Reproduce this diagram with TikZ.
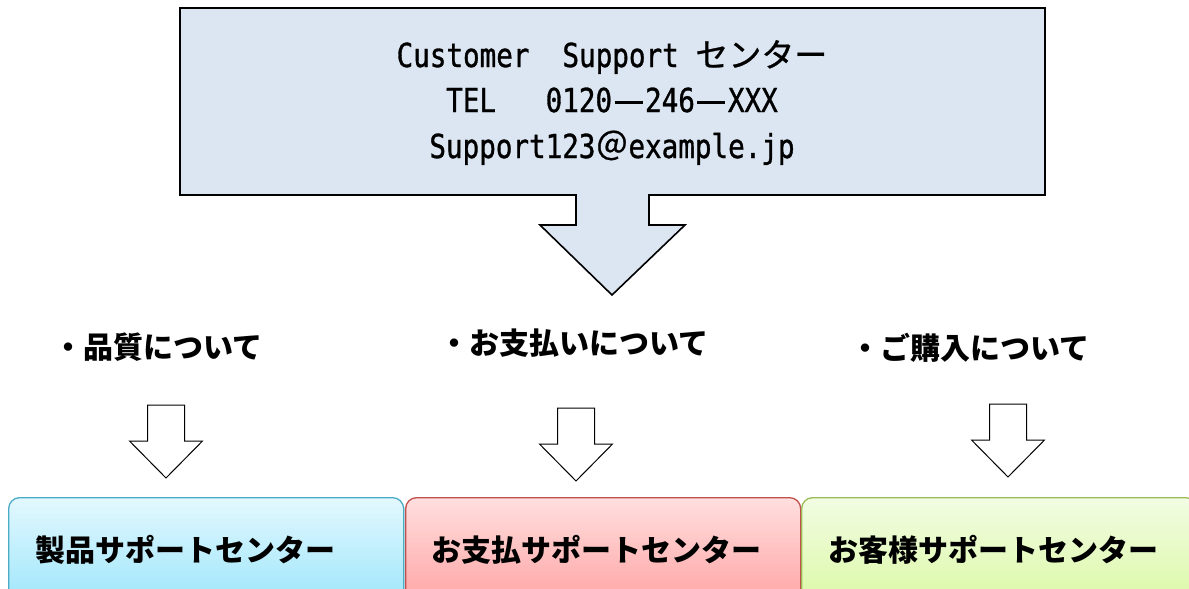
\documentclass[tikz,border=0pt]{standalone}
\usepackage{fontspec}
\usepackage{tikz}
\usetikzlibrary{shadows}
\setmainfont{Noto Sans CJK JP}
\newfontfamily\jpfont{Noto Sans CJK JP}
\newfontfamily\jpmid[FakeBold=0.8]{Noto Sans CJK JP}
\newfontfamily\telfont[FakeStretch=0.836,FakeBold=1]{DejaVu Sans Mono}
\newcommand\jpr[1]{{\jpmid\fontsize{33}{33}\selectfont #1}}
\newcommand\zdash{\hspace{2.5pt}\rule[8.5pt]{28pt}{3pt}\hspace{2.5pt}}
\definecolor{topfill}{HTML}{DCE6F2}
\definecolor{prodtop}{HTML}{E3F8FE}
\definecolor{prodbot}{HTML}{9FE6FB}
\definecolor{prodline}{HTML}{4BACC6}
\definecolor{paytop}{HTML}{FFDFDF}
\definecolor{paybot}{HTML}{FFA5A5}
\definecolor{payline}{HTML}{C0504D}
\definecolor{custtop}{HTML}{F2FCE3}
\definecolor{custbot}{HTML}{DCF9A8}
\definecolor{custline}{HTML}{9BBB59}

\begin{document}
\begin{tikzpicture}[x=1pt,y=-1pt,
  topline/.style={anchor=base,inner sep=0pt,font=\telfont\fontsize{33}{33}\selectfont},
  topic/.style={anchor=west,inner sep=0pt,font=\jpfont\bfseries\fontsize{30}{30}\selectfont},
  hollow/.style={draw=black,fill=white,line width=1pt},
  centrebox/.style={rectangle,rounded corners=11pt,line width=1.3pt,anchor=north west,
    minimum width=395pt,minimum height=104pt,
    drop shadow={opacity=0.2,shadow xshift=1.5pt,shadow yshift=-1.5pt}},
  boxtext/.style={anchor=west,inner sep=0pt,font=\jpfont\bfseries\fontsize{30}{30}\selectfont}]
  \useasboundingbox (0,0) rectangle (1189,589);

  % support centre callout
  \draw[fill=topfill,line width=1.6pt] (180,8) -- (1045,8) -- (1045,195) -- (649,195)
    -- (649,225) -- (685,225) -- (612,295) -- (540,225) -- (576,225) -- (576,195)
    -- (180,195) -- cycle;
  \node[topline] (title) at (612,67) {Customer\jpr{　}Support \jpr{センター}};
  \node[topline] (tel) at (612,112) {TEL\jpr{　} 0120\zdash 246\zdash XXX};
  \node[topline] (mail) at (612,158) {Support123\jpr{＠}example.jp};

  % topics
  \node[topic] (quality) at (53,347) {・品質について};
  \node[topic] (payment) at (439,343) {・お支払いについて};
  \node[topic] (purchase) at (850,348) {・ご購入について};

  % hollow arrows
  \foreach \ax/\ay in {166/405, 576/408, 1008/404}
    \draw[hollow] ({\ax-18.5},\ay) -- ({\ax+18.5},\ay) -- ({\ax+18.5},\ay+36)
      -- ({\ax+36.5},\ay+36) -- (\ax,\ay+73) -- ({\ax-36.5},\ay+36)
      -- ({\ax-18.5},\ay+36) -- cycle;

  % centres
  \node[centrebox,draw=prodline,top color=prodtop,bottom color=prodbot] (prodbox) at (8,497) {};
  \node[centrebox,draw=payline,top color=paytop,bottom color=paybot] (paybox) at (405,497) {};
  \node[centrebox,draw=custline,top color=custtop,bottom color=custbot] (custbox) at (801,497) {};
  \node[boxtext] (prodtext) at ([xshift=27pt]prodbox.west) {製品サポートセンター};
  \node[boxtext] (paytext) at ([xshift=26pt]paybox.west) {お支払サポートセンター};
  \node[boxtext] (custtext) at ([xshift=27pt]custbox.west) {お客様サポートセンター};
\end{tikzpicture}
\end{document}
